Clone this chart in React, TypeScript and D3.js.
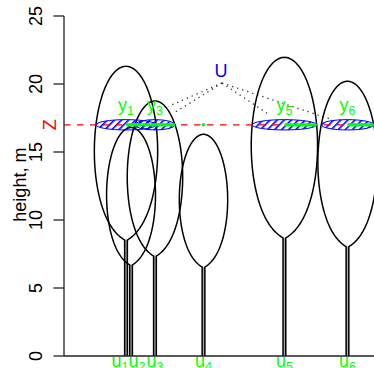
import { useEffect, useRef } from 'react';
import * as d3 from 'd3';

// tree positions and sizes (x in m along transect, heights in m)
const treeIds = [1, 2, 3, 4, 5, 6];
const treeX = [4.56, 4.93, 6.69, 10.26, 16.21, 20.85];
const crownBase = [8.53, 6.7, 7.35, 6.54, 8.68, 8.04];
const treeTop = [21.3, 16.8, 18.75, 16.3, 21.96, 20.2];
const crownRadius = [2.28, 1.75, 1.99, 1.73, 2.39, 2.13];
const uLabelX = [4.12, 5.37, 6.69, 10.26, 16.21, 20.85];
// how far the dotted line from U runs toward (u_i, Z)
const dotReach = [0.56, 0, 0.69, 0, 0.77, 0.86];
const yTicks = [0, 5, 10, 15, 20, 25];
const zHeight = 17;
const uPoint = { x: 11.62, h: 20.07 };

const FONT = 'Liberation Sans, Arial, Helvetica, sans-serif';
const GREEN = '#00ff00';

export default function App() {
  const svgRef = useRef<SVGSVGElement>(null);

  useEffect(() => {
    if (!svgRef.current) return;
    const width = 374;
    const height = 368;
    const svg = d3.select(svgRef.current);
    svg.selectAll('*').remove();
    svg.attr('width', width).attr('height', height);

    const x = d3.scaleLinear().domain([0, 22.8]).range([64, 374]);
    const y = d3.scaleLinear().domain([0, 25]).range([356, 16]);
    const pxPerM = x(1) - x(0);

    const trunkHalf = 0.1;
    const ellRy = 0.38;

    // crown profile
    const e = 0.05;
    const shape = (s: number) =>
      2 * Math.sqrt(Math.max(0, s * (1 - s))) * Math.sqrt(s / (s + e));
    const sMax = d3.max(d3.range(0, 1.0001, 0.001), shape) || 1;
    const radiusAt = (i: number, s: number) =>
      (crownRadius[i] * shape(s)) / sMax + trunkHalf * (1 - s);

    const defs = svg.append('defs');
    const pat = defs
      .append('pattern')
      .attr('id', 'hatch')
      .attr('patternUnits', 'userSpaceOnUse')
      .attr('width', 5)
      .attr('height', 5)
      .attr('patternTransform', 'rotate(45)');
    pat.append('rect').attr('x', 0).attr('y', 0).attr('width', 1.6).attr('height', 5).attr('fill', '#0000ff');

    const g = svg.append('g');

    // dotted lines from U
    treeIds.forEach((_, i) => {
      if (treeTop[i] < zHeight) return;
      const t = dotReach[i];
      const ex = uPoint.x + (treeX[i] - uPoint.x) * t;
      const eh = uPoint.h + (zHeight - uPoint.h) * t;
      g.append('line')
        .attr('x1', x(uPoint.x))
        .attr('y1', y(uPoint.h))
        .attr('x2', x(ex))
        .attr('y2', y(eh))
        .attr('stroke', '#333')
        .attr('stroke-width', 1.3)
        .attr('stroke-dasharray', '1.3,4');
    });

    // trees
    const line = d3
      .line<[number, number]>()
      .x((d) => x(d[0]))
      .y((d) => y(d[1]));
    const n = 90;
    const ss = d3.range(n + 1).map((k) => (1 - Math.cos((Math.PI * k) / n)) / 2);

    treeIds.forEach((_, i) => {
      const u = treeX[i];
      g.append('rect')
        .attr('x', x(u - trunkHalf))
        .attr('y', y(crownBase[i]))
        .attr('width', x(u + trunkHalf) - x(u - trunkHalf))
        .attr('height', y(0) - y(crownBase[i]))
        .attr('fill', '#aaa');
      const pts: [number, number][] = [[u - trunkHalf, 0]];
      ss.forEach((s) => {
        pts.push([u - radiusAt(i, s), crownBase[i] + s * (treeTop[i] - crownBase[i])]);
      });
      ss.slice().reverse().forEach((s) => {
        pts.push([u + radiusAt(i, s), crownBase[i] + s * (treeTop[i] - crownBase[i])]);
      });
      pts.push([u + trunkHalf, 0]);
      g.append('path')
        .attr('d', line(pts))
        .attr('fill', 'none')
        .attr('stroke', '#000')
        .attr('stroke-width', 1.5);
    });

    // cross-sections at Z
    const sections: { i: number; r: number }[] = [];
    treeIds.forEach((_, i) => {
      if (treeTop[i] < zHeight) return;
      const s = (zHeight - crownBase[i]) / (treeTop[i] - crownBase[i]);
      const r = radiusAt(i, s);
      sections.push({ i, r });
      g.append('ellipse')
        .attr('cx', x(treeX[i]))
        .attr('cy', y(zHeight))
        .attr('rx', r * pxPerM)
        .attr('ry', ellRy * pxPerM)
        .attr('fill', 'url(#hatch)')
        .attr('stroke', '#0000ff')
        .attr('stroke-width', 1);
    });

    // Z line
    g.append('line')
      .attr('x1', x(0))
      .attr('x2', width)
      .attr('y1', y(zHeight))
      .attr('y2', y(zHeight))
      .attr('stroke', '#ff0000')
      .attr('stroke-width', 1.3)
      .attr('stroke-dasharray', '6.5,6.5');

    // green radius segments and points
    sections.forEach(({ i, r }) => {
      g.append('line')
        .attr('x1', x(treeX[i]))
        .attr('x2', x(treeX[i] + r))
        .attr('y1', y(zHeight))
        .attr('y2', y(zHeight))
        .attr('stroke', GREEN)
        .attr('stroke-width', 3.2);
    });
    treeIds.forEach((_, i) => {
      if (treeTop[i] >= zHeight) return;
      g.append('circle')
        .attr('cx', x(treeX[i]))
        .attr('cy', y(zHeight))
        .attr('r', 1.8)
        .attr('fill', GREEN);
    });

    // y labels
    sections.forEach(({ i }) => {
      const t = g
        .append('text')
        .attr('x', x(treeX[i]))
        .attr('y', y(zHeight + 1.0))
        .attr('text-anchor', 'middle')
        .attr('font-family', FONT)
        .attr('font-size', 18)
        .attr('fill', GREEN);
      t.append('tspan').text('y');
      t.append('tspan').attr('font-size', 12.6).attr('dy', 4).text(String(treeIds[i]));
    });

    // U label
    g.append('text')
      .attr('x', x(uPoint.x) - 1)
      .attr('y', y(uPoint.h) - 6.5)
      .attr('text-anchor', 'middle')
      .attr('font-family', FONT)
      .attr('font-size', 18)
      .attr('fill', '#0000ff')
      .text('U');

    // axes
    g.append('line')
      .attr('x1', x(0))
      .attr('x2', width)
      .attr('y1', y(0))
      .attr('y2', y(0))
      .attr('stroke', '#222')
      .attr('stroke-width', 1.3);
    g.append('line')
      .attr('x1', x(0))
      .attr('x2', x(0))
      .attr('y1', y(0))
      .attr('y2', y(25))
      .attr('stroke', '#222')
      .attr('stroke-width', 1.3);
    yTicks.forEach((v) => {
      g.append('line')
        .attr('x1', x(0) - 10.5)
        .attr('x2', x(0))
        .attr('y1', y(v))
        .attr('y2', y(v))
        .attr('stroke', '#222')
        .attr('stroke-width', 1.3);
      g.append('text')
        .attr('transform', `translate(42,${y(v)}) rotate(-90)`)
        .attr('text-anchor', 'middle')
        .attr('font-family', FONT)
        .attr('font-size', 18)
        .attr('fill', '#000')
        .text(String(v));
    });
    g.append('text')
      .attr('transform', `translate(26,${y(12.6)}) rotate(-90)`)
      .attr('text-anchor', 'middle')
      .attr('font-family', FONT)
      .attr('font-size', 18)
      .attr('fill', '#000')
      .text('height, m');
    g.append('text')
      .attr('transform', `translate(55.5,${y(zHeight)}) rotate(-90)`)
      .attr('text-anchor', 'middle')
      .attr('font-family', FONT)
      .attr('font-size', 18)
      .attr('fill', '#ff0000')
      .text('Z');

    // u labels
    treeIds.forEach((id, i) => {
      const t = g
        .append('text')
        .attr('x', x(uLabelX[i]))
        .attr('y', 366.5)
        .attr('text-anchor', 'middle')
        .attr('font-family', FONT)
        .attr('font-size', 18)
        .attr('fill', GREEN);
      t.append('tspan').text('u');
      t.append('tspan').attr('font-size', 12.6).attr('dy', 4).text(String(id));
    });
  }, []);

  return (
    <svg
      ref={svgRef}
      style={{ position: 'absolute', left: 0, top: 0, background: '#fff' }}
    />
  );
}
